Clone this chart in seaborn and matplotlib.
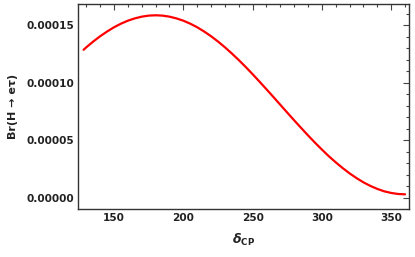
import numpy as np
import pandas as pd
import matplotlib
matplotlib.use("Agg")
import matplotlib.pyplot as plt
import seaborn as sns
from matplotlib.ticker import MultipleLocator, FormatStrFormatter

# delta_CP (degrees) and branching ratio Br(H -> e tau)
delta_cp = [128, 130, 135, 140, 145, 150, 155, 160, 165, 170, 175, 180,
            185, 190, 195, 200, 205, 210, 215, 220, 225, 230, 235, 240,
            245, 250, 255, 260, 265, 270, 275, 280, 285, 290, 295, 300,
            305, 310, 315, 320, 325, 330, 335, 340, 345, 350, 355, 360]
br_e5 = [12.85, 13.07, 13.57, 14.03, 14.44, 14.81, 15.12, 15.38, 15.58, 15.73, 15.82, 15.85,
         15.82, 15.73, 15.58, 15.38, 15.12, 14.81, 14.44, 14.03, 13.57, 13.07, 12.53, 11.96,
         11.36, 10.73, 10.08, 9.42, 8.75, 8.07, 7.39, 6.72, 6.06, 5.41, 4.78, 4.18,
         3.60, 3.07, 2.57, 2.11, 1.70, 1.33, 1.02, 0.76, 0.55, 0.41, 0.32, 0.29]

df = pd.DataFrame({"delta": delta_cp, "br": np.array(br_e5) * 1e-5})

sns.set_style("white")
plt.rcParams["font.family"] = ["DejaVu Sans"]
plt.rcParams["mathtext.fontset"] = "custom"
plt.rcParams["mathtext.it"] = "DejaVu Sans:bold:italic"
plt.rcParams["mathtext.bf"] = "DejaVu Sans:bold"
plt.rcParams["mathtext.rm"] = "DejaVu Sans:bold"

fig = plt.figure(figsize=(4.15, 2.57), dpi=100)
ax = fig.add_axes([0.188, 0.187, 0.798, 0.797])

sns.lineplot(data=df, x="delta", y="br", color="#ff0000", linewidth=1.6, ax=ax)

ax.set_xlim(124, 363)
ax.set_ylim(-0.98e-5, 1.682e-4)

ax.xaxis.set_major_locator(MultipleLocator(50))
ax.xaxis.set_minor_locator(MultipleLocator(10))
ax.yaxis.set_major_locator(MultipleLocator(5e-5))
ax.yaxis.set_minor_locator(MultipleLocator(1e-5))
ax.yaxis.set_major_formatter(FormatStrFormatter("%.5f"))

ax.tick_params(which="both", direction="in", top=True, right=True,
               color="#444444", width=0.8)
ax.tick_params(which="major", length=4, labelsize=7.6, pad=3)
ax.tick_params(which="minor", length=2)
for lab in ax.get_xticklabels() + ax.get_yticklabels():
    lab.set_fontweight("bold")
    lab.set_color("#222222")

for sp in ax.spines.values():
    sp.set_color("#333333")
    sp.set_linewidth(1.0)

ax.set_xlabel(r"$\delta_{\mathbf{CP}}$", fontsize=9, labelpad=6, color="#222222")
ax.set_ylabel("Br(H → eτ)", fontsize=8, fontweight="bold", labelpad=6, color="#222222")

fig.savefig("out.png", dpi=100)
